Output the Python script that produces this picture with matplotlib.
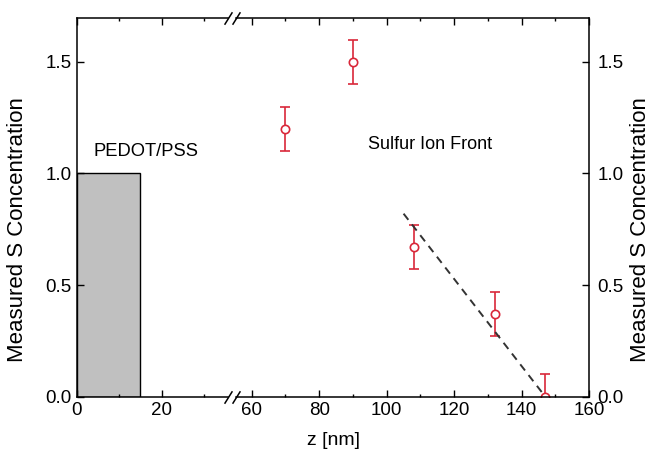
import matplotlib
matplotlib.use("Agg")
import matplotlib.pyplot as plt

matplotlib.rcParams["font.family"] = ["Liberation Sans", "DejaVu Sans"]

RED = "#d9283a"

# ---------- data ----------
film_end = 15          # PEDOT/PSS layer thickness (nm)
film_level = 1.0
z_pts = [70, 90, 108, 132, 147]
s_conc = [1.20, 1.50, 0.67, 0.37, 0.0]
s_err = [0.10, 0.10, 0.10, 0.10, 0.10]
front_z = [105, 147]
front_c = [0.82, 0.0]

fig = plt.figure(figsize=(6.52, 4.58), dpi=100)
bottom, height = 0.1338, 0.8262
ax1 = fig.add_axes([0.1176, bottom, 0.2314, height])
ax2 = fig.add_axes([0.3617, bottom, 0.5420, height])

# left segment
ax1.bar(0, film_level, width=film_end, align="edge", color="#c0c0c0", edgecolor="black", lw=1.0)
ax1.text(3.9, 1.097, "PEDOT/PSS", fontsize=13.2, ha="left", va="center")
ax1.set_xlim(0, 35.5)
ax1.set_xticks([0, 20])
ax1.set_xticks([10, 30], minor=True)

# right segment
ax2.errorbar(z_pts, s_conc, yerr=s_err, fmt="o", ms=6, mfc="white", mec=RED, mew=1.2,
             ecolor=RED, elinewidth=1.2, capsize=3.5, capthick=1.2)
ax2.plot(front_z, front_c, ls=(0, (4, 3)), color="#333333", lw=1.4)
ax2.text(94.4, 1.132, "Sulfur Ion Front", fontsize=13, ha="left", va="center")
ax2.set_xlim(55.3, 160)
ax2.set_xticks([60, 80, 100, 120, 140, 160])
ax2.set_xticks([70, 90, 110, 130, 150], minor=True)

for ax in (ax1, ax2):
    ax.set_ylim(0, 1.695)
    ax.set_yticks([0.0, 0.5, 1.0, 1.5])
    ax.set_yticklabels(["0.0", "0.5", "1.0", "1.5"])
    ax.tick_params(axis="both", which="major", direction="in", length=5, width=1.0, labelsize=13.5)
    ax.tick_params(axis="x", which="minor", direction="in", length=2.5, width=1.0)
    ax.tick_params(axis="x", which="both", top=True)
    for s in ax.spines.values():
        s.set_linewidth(1.1)

ax1.spines["right"].set_visible(False)
ax2.spines["left"].set_visible(False)
ax1.tick_params(axis="y", left=True, right=False)
ax2.tick_params(axis="y", left=False, right=True, labelleft=False, labelright=True, pad=6)

# break marks
d = 1.6
kw = dict(marker=[(-1, -d), (1, d)], markersize=9, linestyle="none", color="k", mec="k", mew=1.1, clip_on=False)
ax1.plot([1, 1], [0, 1], transform=ax1.transAxes, **kw)
ax2.plot([0, 0], [0, 1], transform=ax2.transAxes, **kw)

fig.text(0.511, 0.039, "z [nm]", fontsize=14, ha="center", va="center")
fig.text(0.027, 0.498, "Measured S Concentration", fontsize=16, rotation=90, ha="center", va="center")
fig.text(0.982, 0.498, "Measured S Concentration", fontsize=16, rotation=90, ha="center", va="center")

fig.savefig("out.png", dpi=100)
